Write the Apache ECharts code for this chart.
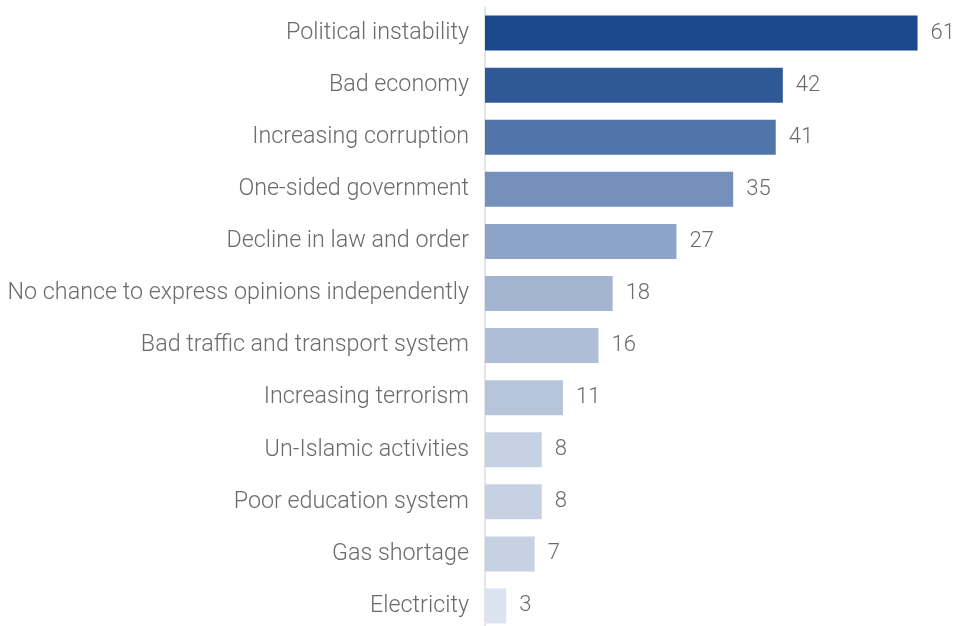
<!DOCTYPE html>
<html>
<head>
<meta charset="utf-8">
<script src="https://cdn.jsdelivr.net/npm/echarts@6/dist/echarts.min.js"></script>
<style>html,body{margin:0;padding:0;background:#fff}#c{width:957px;height:626px}</style>
</head>
<body>
<div id="c"></div>
<script>
const categories = ["Political instability","Bad economy","Increasing corruption","One-sided government","Decline in law and order","No chance to express opinions independently","Bad traffic and transport system","Increasing terrorism","Un-Islamic activities","Poor education system","Gas shortage","Electricity"];
const values = [61,42,41,35,27,18,16,11,8,8,7,3];
const barColors = ["#1C498D","#2F5897","#5275A9","#7490BB","#8DA3C8","#A4B5D2","#AEBED6","#B7C5DB","#C6D2E3","#C6D2E3","#C6D2E3","#DCE3EE"];

const chart = echarts.init(document.getElementById('c'), null, {renderer:'canvas'});
chart.setOption({
  animation:false,
  grid:{left:485, width:468, top:7, height:625, containLabel:false, outerBoundsMode:'none'},
  xAxis:{type:'value', min:0, max:66, show:false},
  yAxis:{type:'category', inverse:true, data:categories,
    axisLine:{show:true, lineStyle:{color:'#dddddd', width:1.5}},
    axisTick:{show:false},
    axisLabel:{color:'#6b6b6b', fontFamily:'Roboto', fontWeight:300, fontSize:23.3, margin:16}
  },
  series:[{type:'bar', barWidth:35,
    data: values.map((v,i)=>({value:v, itemStyle:{color:barColors[i]}})),
    label:{show:true, position:'right', distance:13, color:'#6b6b6b', fontFamily:'Roboto', fontWeight:300, fontSize:22}
  }]
});
</script>
</body>
</html>
